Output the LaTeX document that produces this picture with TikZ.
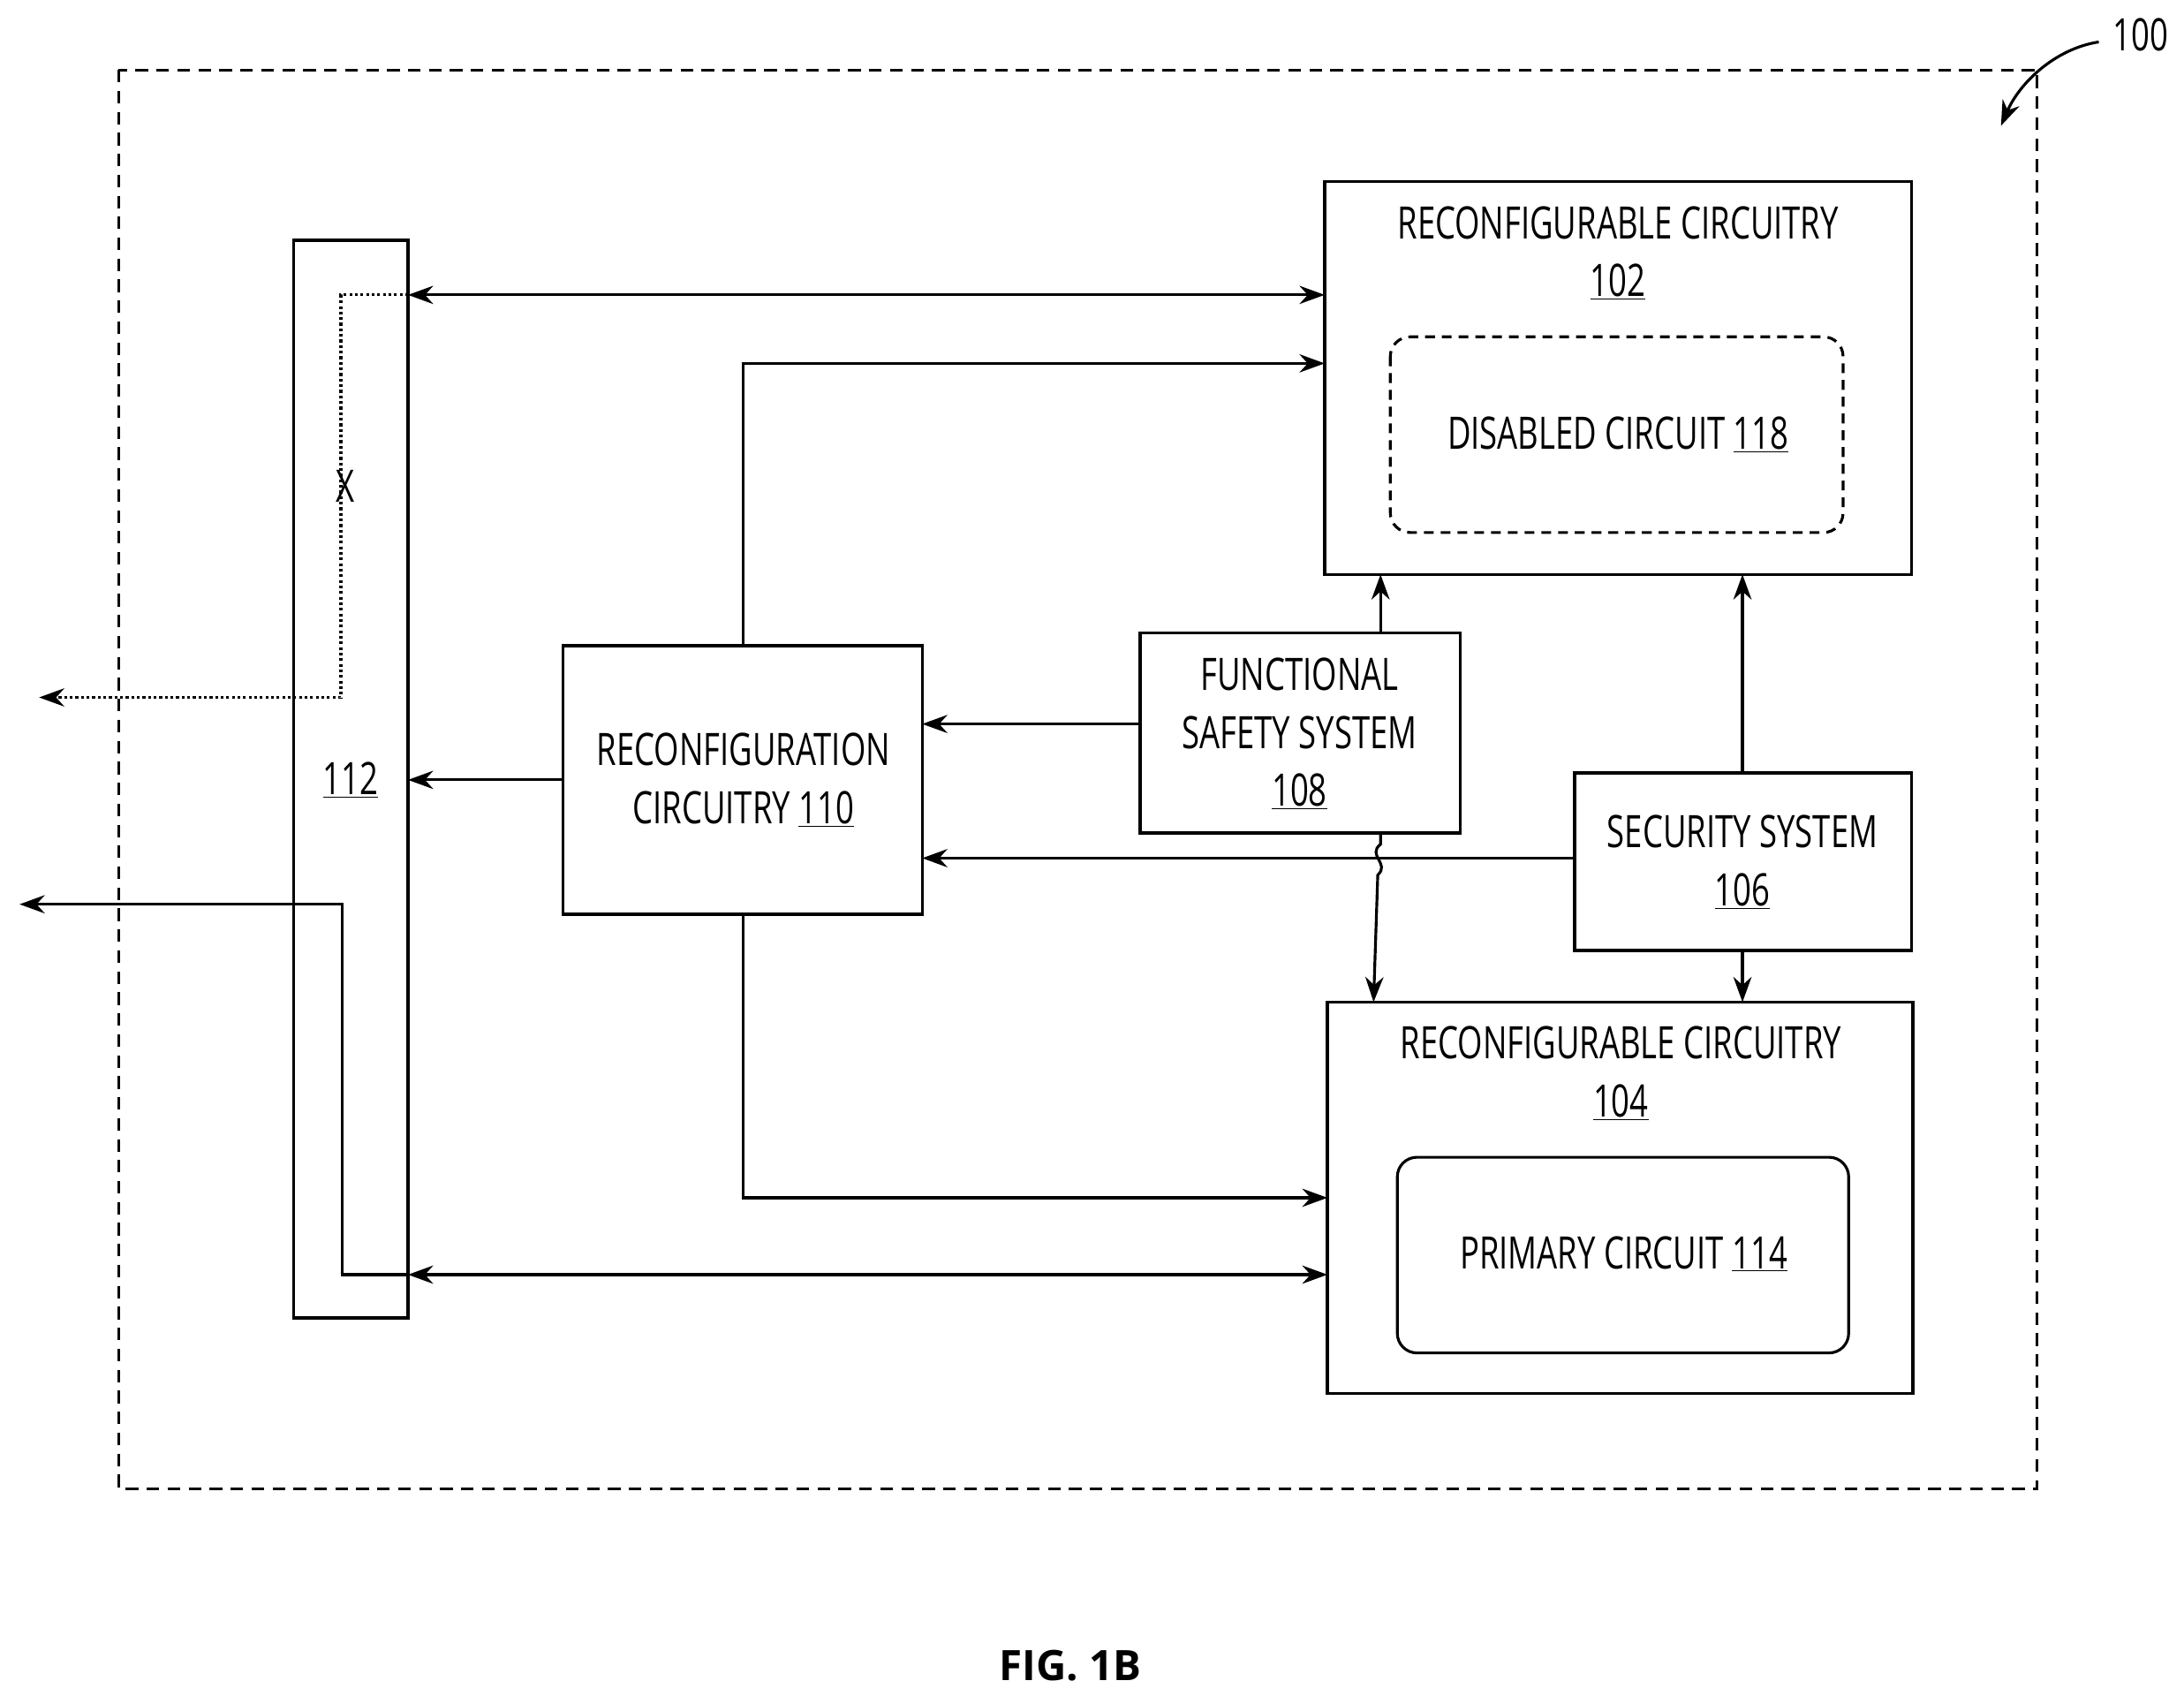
\documentclass[tikz,border=0pt]{standalone}
\usepackage{fontspec}
\setmainfont{Open Sans}[FakeStretch=0.72]
\newfontfamily\figfont{Open Sans}
\usetikzlibrary{arrows.meta}
\begin{document}
\begin{tikzpicture}[x=1pt,y=-1pt,
  line width=2pt,
  arr/.style={-{Stealth[length=18pt,width=13pt]}},
  darr/.style={{Stealth[length=18pt,width=13pt]}-{Stealth[length=18pt,width=13pt]}},
  box/.style={draw,line width=2.2pt},
  lab/.style={font=\fontsize{32}{41.5}\selectfont,align=center}]
\useasboundingbox (0,0) rectangle (1563,1213);
\draw[dashed,dash pattern=on 9pt off 6pt] (85,50) rectangle (1458,1065);
\node[lab] (n100) at (1532,25) {100};
\draw[arr] (1502,30) .. controls (1470,35) and (1445,60) .. (1432,90);
\draw[box] (210,172) rectangle (292,943);
\coordinate (bt) at (292,211); \coordinate (bb) at (292,912); \coordinate (bm) at (292,558);
\node[lab] (n112) at (251,558) {\underline{112}};
\node[lab] (nx) at (247,348) {X};
\draw[box] (948,130) rectangle (1368,411);
\node[lab] (t102) at (1158,181) {RECONFIGURABLE CIRCUITRY\\\underline{102}};
\draw[line width=2pt,dash pattern=on 7pt off 5pt,rounded corners=14pt] (995,241) rectangle (1319,381);
\node[lab] (t118) at (1158,311) {DISABLED CIRCUIT \underline{118}};
\draw[box] (950,717) rectangle (1369,997);
\node[lab] (t104) at (1160,768) {RECONFIGURABLE CIRCUITRY\\\underline{104}};
\draw[line width=2pt,rounded corners=14pt] (1000,828) rectangle (1323,968);
\node[lab] (t114) at (1162,897) {PRIMARY CIRCUIT \underline{114}};
\draw[box] (403,462) rectangle (660,654);
\node[lab] (t110) at (532,558) {RECONFIGURATION\\CIRCUITRY \underline{110}};
\draw[box] (816,453) rectangle (1045,596);
\node[lab] (t108) at (930,525) {FUNCTIONAL\\SAFETY SYSTEM\\\underline{108}};
\draw[box] (1127,553) rectangle (1368,680);
\node[lab] (t106) at (1247,617) {SECURITY SYSTEM\\\underline{106}};
\draw[darr] (bt) -- (948,211);
\draw[arr,dotted,line width=2pt] (bt) -- (244,211) -- (244,499) -- (28,499);
\draw[arr] (532,462) -- (532,260) -- (948,260);
\draw[arr] (403,558) -- (bm);
\draw[arr] (816,518) -- (660,518);
\draw[arr] (1127,614) -- (660,614);
\draw[arr] (988,453) -- (988,411);
\draw[arr] (1247,553) -- (1247,411);
\draw[arr] (1247,680) -- (1247,717);
\draw[arr] (988,596) -- (988,604) .. controls (978,612) and (995,618) .. (986,626) -- (983,717);
\draw[arr] (532,654) -- (532,857) -- (950,857);
\draw[darr] (bb) -- (950,912);
\draw[arr] (bb) -- (245,912) -- (245,647) -- (14,647);
\node[font=\figfont\fontsize{30}{36}\selectfont\bfseries] (fig) at (766,1192) {FIG. 1B};
\end{tikzpicture}
\end{document}
